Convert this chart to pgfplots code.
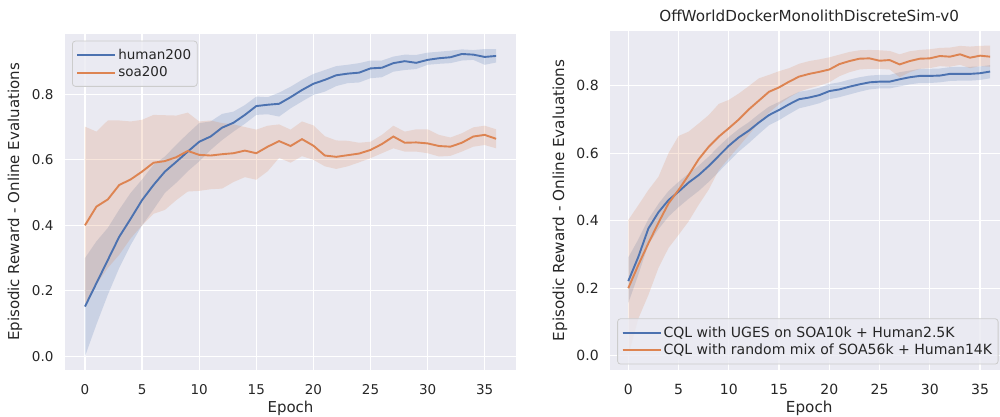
\documentclass[border=0pt]{standalone}
\usepackage{pgfplots}
\pgfplotsset{compat=1.18}
\usepackage{pgfplotstable}
\usepgfplotslibrary{fillbetween}
\usepackage{fontspec}
\setmainfont{DejaVu Sans}
\definecolor{sbblue}{HTML}{4C72B0}
\definecolor{sborange}{HTML}{DD8452}
\definecolor{sbbg}{HTML}{EAEAF2}
\definecolor{txt}{HTML}{262626}
\definecolor{legedge}{HTML}{CCCCCC}

\pgfplotstableread{
x mean lo hi
0 0.152 0.000 0.300
1 0.223 0.097 0.351
2 0.294 0.188 0.392
3 0.365 0.270 0.448
4 0.420 0.340 0.499
5 0.477 0.400 0.540
6 0.523 0.448 0.585
7 0.564 0.499 0.610
8 0.594 0.530 0.646
9 0.625 0.565 0.680
10 0.655 0.595 0.712
11 0.671 0.630 0.717
12 0.698 0.660 0.740
13 0.713 0.686 0.747
14 0.737 0.710 0.767
15 0.764 0.737 0.793
16 0.768 0.739 0.791
17 0.771 0.732 0.805
18 0.791 0.757 0.823
19 0.813 0.778 0.844
20 0.832 0.798 0.862
21 0.844 0.808 0.874
22 0.858 0.825 0.886
23 0.863 0.834 0.890
24 0.866 0.836 0.895
25 0.879 0.849 0.903
26 0.881 0.852 0.903
27 0.895 0.869 0.915
28 0.901 0.874 0.921
29 0.896 0.877 0.920
30 0.905 0.890 0.927
31 0.910 0.893 0.930
32 0.913 0.895 0.933
33 0.923 0.903 0.937
34 0.921 0.905 0.935
35 0.914 0.890 0.938
36 0.917 0.897 0.938
}\humantab

\pgfplotstableread{
x mean lo hi
0 0.400 0.160 0.701
1 0.457 0.219 0.686
2 0.479 0.270 0.720
3 0.523 0.310 0.720
4 0.540 0.360 0.717
5 0.564 0.400 0.722
6 0.591 0.435 0.737
7 0.596 0.447 0.736
8 0.608 0.477 0.735
9 0.627 0.503 0.744
10 0.615 0.505 0.717
11 0.613 0.510 0.720
12 0.617 0.512 0.712
13 0.620 0.532 0.708
14 0.628 0.547 0.700
15 0.620 0.539 0.692
16 0.640 0.565 0.704
17 0.657 0.606 0.708
18 0.642 0.591 0.692
19 0.663 0.611 0.717
20 0.643 0.600 0.705
21 0.613 0.580 0.672
22 0.609 0.572 0.659
23 0.614 0.580 0.658
24 0.619 0.592 0.652
25 0.630 0.605 0.655
26 0.648 0.620 0.676
27 0.671 0.635 0.704
28 0.652 0.625 0.686
29 0.653 0.625 0.693
30 0.650 0.620 0.693
31 0.642 0.610 0.676
32 0.640 0.612 0.668
33 0.652 0.625 0.681
34 0.671 0.640 0.699
35 0.676 0.645 0.704
36 0.664 0.635 0.693
}\soatab

\pgfplotstableread{
x mean lo hi
0 0.221 0.156 0.291
1 0.293 0.240 0.345
2 0.377 0.330 0.405
3 0.425 0.375 0.450
4 0.461 0.412 0.488
5 0.486 0.440 0.515
6 0.513 0.465 0.540
7 0.535 0.488 0.563
8 0.562 0.515 0.590
9 0.592 0.545 0.620
10 0.622 0.575 0.648
11 0.647 0.605 0.672
12 0.667 0.630 0.692
13 0.691 0.657 0.716
14 0.713 0.683 0.738
15 0.728 0.698 0.752
16 0.745 0.716 0.768
17 0.760 0.733 0.782
18 0.765 0.740 0.787
19 0.772 0.748 0.794
20 0.784 0.760 0.805
21 0.789 0.766 0.810
22 0.797 0.774 0.818
23 0.804 0.782 0.825
24 0.810 0.789 0.830
25 0.812 0.792 0.832
26 0.812 0.792 0.832
27 0.819 0.798 0.840
28 0.825 0.804 0.845
29 0.829 0.808 0.850
30 0.829 0.808 0.850
31 0.830 0.810 0.851
32 0.835 0.814 0.855
33 0.835 0.815 0.856
34 0.835 0.815 0.856
35 0.837 0.817 0.857
36 0.842 0.822 0.861
}\ugestab

\pgfplotstableread{
x mean lo hi
0 0.200 0.000 0.402
1 0.269 0.110 0.446
2 0.333 0.180 0.491
3 0.394 0.260 0.530
4 0.451 0.319 0.600
5 0.491 0.358 0.651
6 0.535 0.398 0.664
7 0.582 0.447 0.688
8 0.619 0.492 0.713
9 0.649 0.550 0.746
10 0.674 0.585 0.758
11 0.700 0.620 0.777
12 0.730 0.655 0.799
13 0.756 0.690 0.822
14 0.782 0.720 0.832
15 0.795 0.745 0.843
16 0.812 0.765 0.852
17 0.827 0.782 0.865
18 0.835 0.792 0.873
19 0.841 0.800 0.878
20 0.848 0.810 0.884
21 0.864 0.828 0.892
22 0.873 0.840 0.900
23 0.880 0.848 0.905
24 0.881 0.850 0.906
25 0.874 0.850 0.905
26 0.876 0.848 0.903
27 0.863 0.825 0.893
28 0.873 0.840 0.902
29 0.880 0.850 0.906
30 0.881 0.852 0.908
31 0.888 0.858 0.912
32 0.886 0.856 0.913
33 0.893 0.862 0.918
34 0.883 0.852 0.916
35 0.889 0.858 0.918
36 0.886 0.856 0.919
}\mixtab

\pgfplotsset{
  sbstyle/.style={
    scale only axis,
    axis background/.style={fill=sbbg},
    axis line style={draw=none},
    grid=major,
    major grid style={white, line width=1.25pt},
    major tick length=0pt,
    tick style={draw=none},
    xtick={0,5,...,35},
    ytick={0,0.2,0.4,0.6,0.8},
    xmin=-1.8, xmax=37.8,
    /pgf/number format/assume math mode=true,
    yticklabel style={/pgf/number format/fixed, /pgf/number format/fixed zerofill, /pgf/number format/precision=1, xshift=-8pt},
    xticklabel style={yshift=-11pt},
    tick label style={font=\fontsize{13.5}{16}\selectfont, text=txt},
    xlabel={Epoch},
    ylabel={Episodic Reward - Online Evaluations},
    label style={font=\fontsize{15}{18}\selectfont, text=txt},
    xlabel style={at={(axis description cs:0.5,0)}, anchor=base, yshift=-43pt},
    legend cell align=left,
    legend image code/.code={\draw[##1, line width=1.9pt] (-2pt,0pt) -- (27pt,0pt); \path (-2pt,0pt) -- (36pt,0pt);},
    legend style={fill=sbbg, fill opacity=0.8, text opacity=1, draw=legedge, draw opacity=1, line width=0.8pt, rounded corners=3pt,
      font=\fontsize{13.5}{16}\selectfont, text=txt, inner xsep=4pt, inner ysep=6pt, row sep=2pt},
  }
}

\begin{document}
\begin{tikzpicture}

\begin{axis}[sbstyle,
  at={(65pt,47pt)}, anchor=south west,
  width=451pt, height=336pt,
  xmin=-1.75, xmax=37.74,
  ymin=-0.0418, ymax=0.984,
  ylabel style={at={(axis description cs:-0.1109,0.5)}, anchor=center},
  legend style={at={(axis description cs:0,1)}, anchor=north west, xshift=7pt, yshift=-6.7pt},
]
\addplot[draw=none, name path=hA, forget plot] table[x=x, y=hi] {\humantab};
\addplot[draw=none, name path=lA, forget plot] table[x=x, y=lo] {\humantab};
\addplot[fill=sbblue, fill opacity=0.2, draw=none, forget plot] fill between[of=hA and lA];
\addplot[draw=none, name path=hB, forget plot] table[x=x, y=hi] {\soatab};
\addplot[draw=none, name path=lB, forget plot] table[x=x, y=lo] {\soatab};
\addplot[fill=sborange, fill opacity=0.2, draw=none, forget plot] fill between[of=hB and lB];
\addplot[sbblue, line width=1.9pt] table[x=x, y=mean] {\humantab};
\addlegendentry{human200}
\addplot[sborange, line width=1.9pt] table[x=x, y=mean] {\soatab};
\addlegendentry{soa200}
\end{axis}

\begin{axis}[sbstyle,
  at={(610.2pt,47pt)}, anchor=south west,
  width=398pt, height=339.3pt,
  ymin=-0.0424, ymax=0.963,
  tick label style={font=\fontsize{14}{16.5}\selectfont, text=txt},
  title={OffWorldDockerMonolithDiscreteSim-v0},
  title style={at={(axis description cs:0.5,1)}, anchor=base, yshift=3.3pt, font=\fontsize{15.2}{18}\selectfont, text=txt},
  label style={font=\fontsize{15.2}{18}\selectfont, text=txt},
  ylabel style={at={(axis description cs:-0.1261,0.5)}, anchor=center},
  legend style={at={(axis description cs:0,0)}, anchor=south west, xshift=7pt, yshift=5.5pt, font=\fontsize{14.05}{16.5}\selectfont, row sep=1pt},
]
\addplot[draw=none, name path=hC, forget plot] table[x=x, y=hi] {\ugestab};
\addplot[draw=none, name path=lC, forget plot] table[x=x, y=lo] {\ugestab};
\addplot[fill=sbblue, fill opacity=0.2, draw=none, forget plot] fill between[of=hC and lC];
\addplot[draw=none, name path=hD, forget plot] table[x=x, y=hi] {\mixtab};
\addplot[draw=none, name path=lD, forget plot] table[x=x, y=lo] {\mixtab};
\addplot[fill=sborange, fill opacity=0.2, draw=none, forget plot] fill between[of=hD and lD];
\addplot[sbblue, line width=1.9pt] table[x=x, y=mean] {\ugestab};
\addlegendentry{CQL with UGES on SOA10k + Human2.5K}
\addplot[sborange, line width=1.9pt] table[x=x, y=mean] {\mixtab};
\addlegendentry{CQL with random mix of SOA56k + Human14K}
\end{axis}

\pgfresetboundingbox
\path[use as bounding box] (0pt,0pt) rectangle (1000pt,417pt);
\end{tikzpicture}
\end{document}
